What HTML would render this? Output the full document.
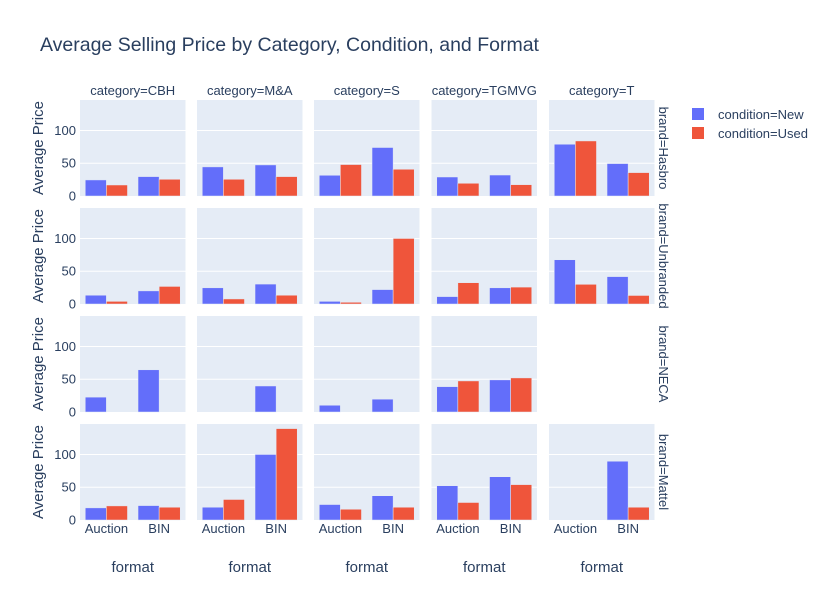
<!DOCTYPE html>
<html><head><meta charset="utf-8"><style>
body{margin:0;background:#fff;}
svg{display:block;font-family:"Liberation Sans",Arial,sans-serif;}
</style></head><body>
<svg id="chart" width="830" height="600">
<text x="40" y="51" font-size="19.5" fill="#2a3f5f">Average Selling Price by Category, Condition, and Format</text>
<g id="legend">
<g><rect x="692" y="108" width="12" height="12" fill="#636efa"/><text x="718" y="119" font-size="13" fill="#2a3f5f">condition=New</text></g>
<g><rect x="692" y="127" width="12" height="12" fill="#EF553B"/><text x="718" y="138" font-size="13" fill="#2a3f5f">condition=Used</text></g>
</g>
</svg>
<script>
const categories = ["CBH","M&A","S","TGMVG","T"];
const brands = ["Hasbro","Unbranded","NECA","Mattel"];
const formats = ["Auction","BIN"];
const yTicks = [0,50,100];
// values[brand][category] = [newAuction, usedAuction, newBIN, usedBIN]; null = no bar
const hasbroValues = [[24.5,16.8,29.6,25.5],[44.4,25.5,47.4,29.6],[31.6,48,74,40.8],[29,19.4,32,17.3],[79,84,49.5,35.7]];
const unbrandedValues = [[13.4,4,20,26.8],[24.7,7.7,30.4,13.4],[4,2.6,22,100],[11.3,32.5,24.7,25.8],[67.5,30,41.8,13]];
const necaValues = [[22.7,null,64.4,null],[null,null,39.7,null],[10.3,null,19.6,null],[38.7,47.4,49,52],"empty"];
const mattelValues = [[18.5,21.5,22,19.5],[19.5,31.3,100,139.5],[23.6,16.4,37,19.5],[52.3,26.7,66,54],[null,null,89.7,19.5]];
const allValues = [hasbroValues, unbrandedValues, necaValues, mattelValues];
const colors = ["#636efa","#EF553B"];

const svg = document.getElementById('chart');
const NS = "http://www.w3.org/2000/svg";
const colX = [80,197,314,431.5,549], pw = 105.5;
const rowY = [100,208,316,424], ph = 96;
const yMax = 146.5;
function yScale(v, r){ return rowY[r] + ph - v / yMax * ph; }
function mk(tag, attrs, parent){ const e=document.createElementNS(NS,tag); for(const k in attrs) e.setAttribute(k, attrs[k]); (parent||svg).appendChild(e); return e; }

categories.forEach((c,ci)=>{
  const t = mk('text',{x:colX[ci]+pw/2,y:95,'font-size':13,'text-anchor':'middle',fill:'#2a3f5f'});
  t.textContent = 'category='+c;
  
  
  const ft = mk('text',{x:colX[ci]+pw/2,y:572,'font-size':15,'text-anchor':'middle',fill:'#2a3f5f'});
  ft.textContent = 'format';
  
  
  formats.forEach((f,fi)=>{
    const tl = mk('text',{x:colX[ci]+pw/4+fi*pw/2,y:533,'font-size':13,'text-anchor':'middle',fill:'#2a3f5f'});
    tl.textContent = f;
    
    
  });
});

brands.forEach((b,ri)=>{
  const rl = mk('text',{x:0,y:0,'font-size':13,'text-anchor':'middle',fill:'#2a3f5f',transform:`translate(659,${rowY[ri]+ph/2}) rotate(90)`});
  rl.textContent = 'brand='+b;
  
  
  const yt = mk('text',{x:0,y:0,'font-size':15,'text-anchor':'middle',fill:'#2a3f5f',transform:`translate(43,${rowY[ri]+ph/2}) rotate(-90)`});
  yt.textContent = 'Average Price';
  
  
  yTicks.forEach(v=>{
    const tt = mk('text',{x:76,y:yScale(v,ri)+4.5,'font-size':13,'text-anchor':'end',fill:'#2a3f5f'});
    tt.textContent = v;
    
    
  });
  categories.forEach((c,ci)=>{
    const vals = allValues[ri][ci];
    if (vals === "empty") return;
    const g = mk('g',{});
    
    
    mk('rect',{x:colX[ci],y:rowY[ri],width:pw,height:ph,fill:'#E5ECF6'},g);
    yTicks.forEach(v=>{ if(v>0) mk('line',{x1:colX[ci],x2:colX[ci]+pw,y1:yScale(v,ri),y2:yScale(v,ri),stroke:'#fff','stroke-width':1},g); });
    const band = pw/2, grp = band*0.8, bw = grp/2;
    vals.forEach((v,k)=>{
      if (v === null) return;
      const fi = Math.floor(k/2), s = k%2;
      const x = colX[ci] + fi*band + band*0.1 + s*bw;
      const bar = mk('rect',{x:x,y:yScale(v,ri),width:bw,height:yScale(0,ri)-yScale(v,ri),fill:colors[s],stroke:'#E5ECF6','stroke-width':0.5},g);
      
      
    });
  });
});
</script>
</body></html>
